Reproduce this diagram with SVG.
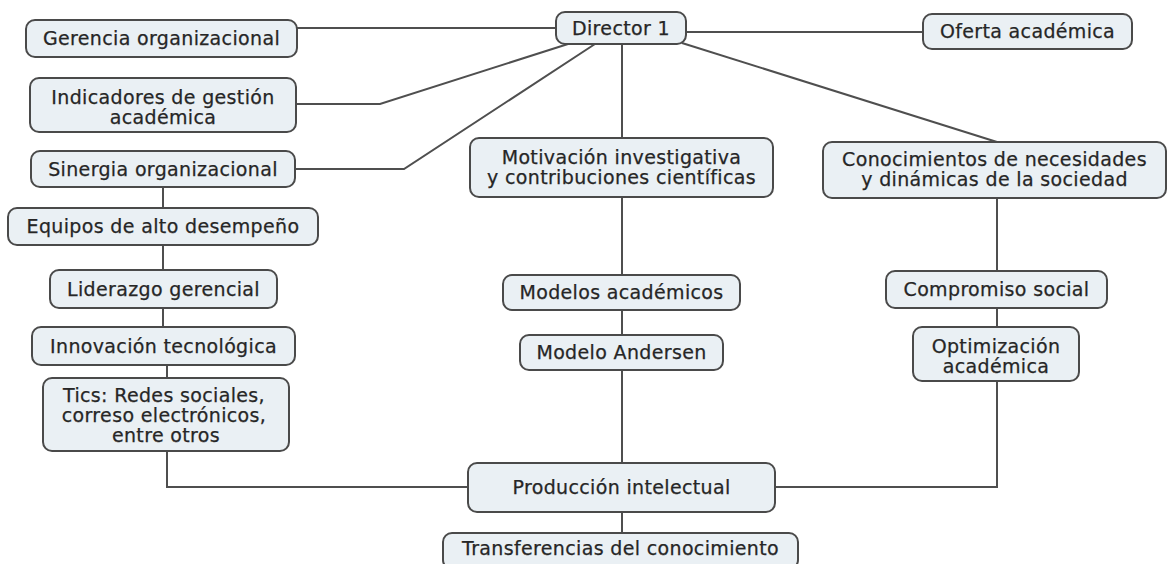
<svg xmlns="http://www.w3.org/2000/svg" width="1167" height="564" viewBox="0 0 1167 564">
<style>
.box{fill:#eaf0f4;stroke:#4a4a4a;stroke-width:2}
.t{font-family:"DejaVu Sans",Verdana,sans-serif;font-size:19px;letter-spacing:0.35px;fill:#262626;stroke:#262626;stroke-width:0.25;text-anchor:middle}
.c{fill:none;stroke:#4f4f4f;stroke-width:2}
</style>
<rect width="1167" height="564" fill="#fff"/>
<g id="connectors">
<line class="c" x1="297" y1="28" x2="556" y2="28"/>
<polyline class="c" points="296,104 380,104 568,44"/>
<polyline class="c" points="295,169 404,169 595,44"/>
<line class="c" x1="686" y1="32" x2="923" y2="32"/>
<line class="c" x1="682" y1="43" x2="997" y2="142"/>
<line class="c" x1="622" y1="44" x2="622" y2="138"/>
<line class="c" x1="163" y1="187" x2="163" y2="208"/>
<line class="c" x1="163" y1="245" x2="163" y2="270"/>
<line class="c" x1="163" y1="308" x2="163" y2="327"/>
<line class="c" x1="167" y1="365" x2="167" y2="378"/>
<polyline class="c" points="167,451 167,487 468,487"/>
<line class="c" x1="622" y1="197" x2="622" y2="275"/>
<line class="c" x1="622" y1="310" x2="622" y2="335"/>
<line class="c" x1="622" y1="370" x2="622" y2="463"/>
<line class="c" x1="997" y1="198" x2="997" y2="271"/>
<line class="c" x1="997" y1="308" x2="997" y2="327"/>
<polyline class="c" points="997,381 997,487 775,487"/>
<line class="c" x1="622" y1="512" x2="622" y2="533"/>
</g>
<g id="gerencia"><rect class="box" x="26" y="20" width="271" height="37" rx="9"/><text class="t" x="161.5" y="45">Gerencia organizacional</text></g>
<g id="indicadores"><rect class="box" x="30" y="78" width="266" height="54" rx="9"/><text class="t" x="163" y="104">Indicadores de gestión</text><text class="t" x="163" y="124">académica</text></g>
<g id="sinergia"><rect class="box" x="31" y="151" width="264" height="36" rx="9"/><text class="t" x="163" y="176">Sinergia organizacional</text></g>
<g id="director"><rect class="box" x="556" y="12" width="130" height="32" rx="9"/><text class="t" x="621" y="35">Director 1</text></g>
<g id="oferta"><rect class="box" x="923" y="14" width="209" height="35" rx="9"/><text class="t" x="1027.5" y="38">Oferta académica</text></g>
<g id="motivacion"><rect class="box" x="470" y="138" width="303" height="59" rx="9"/><text class="t" x="621.5" y="164">Motivación investigativa</text><text class="t" x="621.5" y="184">y contribuciones científicas</text></g>
<g id="conocimientos"><rect class="box" x="823" y="142" width="343" height="56" rx="9"/><text class="t" x="994.5" y="166">Conocimientos de necesidades</text><text class="t" x="994.5" y="186">y dinámicas de la sociedad</text></g>
<g id="equipos"><rect class="box" x="8" y="208" width="310" height="37" rx="9"/><text class="t" x="163" y="233">Equipos de alto desempeño</text></g>
<g id="liderazgo"><rect class="box" x="50" y="270" width="227" height="38" rx="9"/><text class="t" x="163.5" y="295.5">Liderazgo gerencial</text></g>
<g id="innovacion"><rect class="box" x="32" y="327" width="263" height="38" rx="9"/><text class="t" x="163.5" y="352.5">Innovación tecnológica</text></g>
<g id="tics"><rect class="box" x="43" y="378" width="246" height="73" rx="9"/><text class="t" x="164" y="402">Tics: Redes sociales,</text><text class="t" x="164" y="422">correso electrónicos,</text><text class="t" x="166" y="442">entre otros</text></g>
<g id="modelos"><rect class="box" x="503" y="275" width="237" height="35" rx="9"/><text class="t" x="621.5" y="299">Modelos académicos</text></g>
<g id="andersen"><rect class="box" x="520" y="335" width="203" height="35" rx="9"/><text class="t" x="621.5" y="359">Modelo Andersen</text></g>
<g id="compromiso"><rect class="box" x="886" y="271" width="221" height="37" rx="9"/><text class="t" x="996.5" y="296">Compromiso social</text></g>
<g id="optimizacion"><rect class="box" x="913" y="327" width="166" height="54" rx="9"/><text class="t" x="996" y="352.5">Optimización</text><text class="t" x="996" y="372.5">académica</text></g>
<g id="produccion"><rect class="box" x="468" y="463" width="307" height="49" rx="9"/><text class="t" x="621.5" y="494">Producción intelectual</text></g>
<g id="transferencias"><rect class="box" x="443" y="533" width="355" height="36" rx="9"/><text class="t" x="620.5" y="554.5">Transferencias del conocimiento</text></g>
</svg>
